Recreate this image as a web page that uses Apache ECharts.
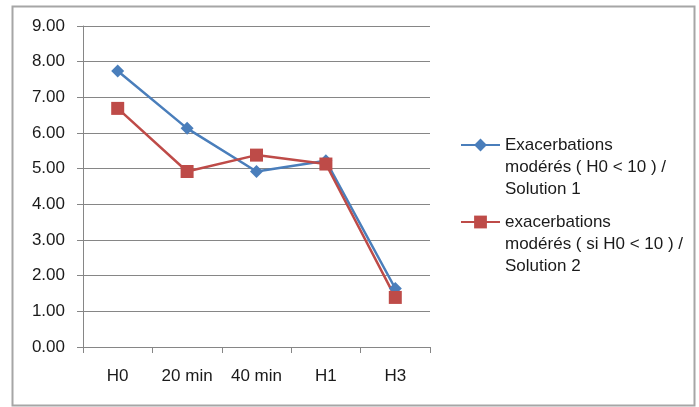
<!DOCTYPE html>
<html><head><meta charset="utf-8">
<script src="https://cdn.jsdelivr.net/npm/echarts@6/dist/echarts.min.js"></script>
<style>html,body{margin:0;padding:0;background:#fff}#c{width:699px;height:407px}</style>
</head><body><div id="c"></div>
<script>
const categories = ['H0', '20 min', '40 min', 'H1', 'H3'];
const series1Name = 'Exacerbations\nmodérés ( H0 < 10 ) /\nSolution 1';
const series2Name = 'exacerbations\nmodérés ( si H0 < 10 ) /\nSolution 2';
const series1 = [7.74, 6.13, 4.92, 5.22, 1.64];
const series2 = [6.69, 4.92, 5.38, 5.13, 1.39];

const FONT = 'Liberation Sans';
const chart = echarts.init(document.getElementById('c'), null, {renderer: 'canvas'});
const legendText = {fontFamily: FONT, fontSize: 17, color: '#1a1a1a', lineHeight: 22};
const legendBase = {left: 455, orient: 'vertical', itemWidth: 39, itemHeight: 16, textStyle: legendText,
  selectedMode: false, formatter: n => '\n\n' + n};
chart.setOption({
  animation: false,
  textStyle: {fontFamily: FONT},
  graphic: [{type: 'rect', shape: {x: 12.5, y: 6.5, width: 682, height: 399}, style: {fill: 'none', stroke: '#a6a6a6', lineWidth: 2}}],
  grid: {left: 83, right: 269, top: 26, bottom: 60},
  legend: [
    Object.assign({data: [series1Name], top: 85}, legendBase),
    Object.assign({data: [series2Name], top: 162}, legendBase)
  ],
  xAxis: {
    type: 'category', data: categories, boundaryGap: true,
    axisLine: {lineStyle: {color: '#868686', width: 1}},
    axisTick: {show: true, length: 6, lineStyle: {color: '#868686'}, alignWithLabel: false},
    axisLabel: {fontFamily: FONT, fontSize: 17, color: '#1a1a1a', margin: 21}
  },
  yAxis: {
    type: 'value', min: 0, max: 9, interval: 1,
    axisLine: {show: true, lineStyle: {color: '#868686', width: 1}},
    axisTick: {show: true, length: 6, lineStyle: {color: '#868686'}},
    splitLine: {show: true, lineStyle: {color: '#868686', width: 1}},
    axisLabel: {fontFamily: FONT, fontSize: 17, color: '#1a1a1a', margin: 18, formatter: v => v.toFixed(2)}
  },
  series: [
    {name: series1Name, type: 'line', data: series1, symbol: 'diamond', symbolSize: 13,
     lineStyle: {color: '#4A7EBB', width: 2.5}, itemStyle: {color: '#4A7EBB'}},
    {name: series2Name, type: 'line', data: series2, symbol: 'rect', symbolSize: 13,
     lineStyle: {color: '#BE4B48', width: 2.5}, itemStyle: {color: '#BE4B48'}}
  ]
});
</script></body></html>
